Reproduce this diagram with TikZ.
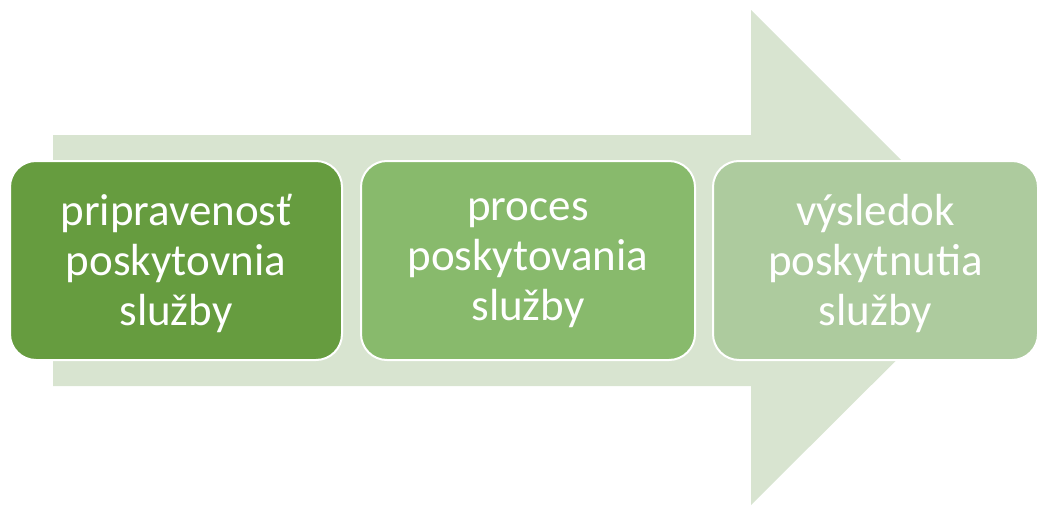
\documentclass[tikz,border=0pt]{standalone}
\usepackage{fontspec}
\setmainfont{Carlito}
\definecolor{arrowc}{HTML}{D8E4D0}
\definecolor{boxa}{HTML}{669C3F}
\definecolor{boxb}{HTML}{88BA6C}
\definecolor{boxc}{HTML}{ADCB9E}
\begin{document}
\begin{tikzpicture}[x=1pt,y=-1pt,
  stepbox/.style={draw=white, line width=2pt, rounded corners=26pt, minimum width=332pt, minimum height=199pt, inner sep=0pt, text=white, align=center, font=\fontsize{45}{50}\selectfont}]
\useasboundingbox (0,0) rectangle (1039,506);
\fill[arrowc] (53,135) -- (751,135) -- (751,10) -- (999,258) -- (751,505) -- (751,386) -- (53,386) -- cycle;
\node[stepbox, fill=boxa] (a) at (176,260.5) {};
\node[stepbox, fill=boxb, minimum width=334pt] (b) at (528,260.5) {};
\node[stepbox, fill=boxc, minimum width=325pt] (c) at (875.5,260.5) {};
\node[stepbox, draw=none, fill=none, yshift=-3pt] (ta) at (a) {pripravenosť\\poskytovnia\\služby};
\node[stepbox, draw=none, fill=none, yshift=-3pt] (tb) at (b) {proces\\poskytovania\\služby};
\node[stepbox, draw=none, fill=none, yshift=-3pt] (tc) at (c) {výsledok\\poskytnutia\\služby};
\end{tikzpicture}
\end{document}
